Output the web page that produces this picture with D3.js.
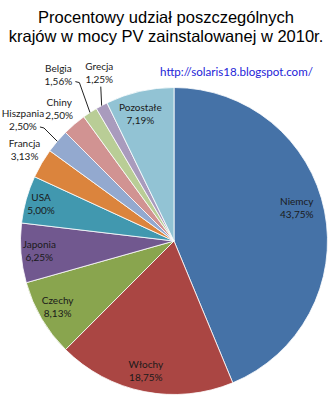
<!DOCTYPE html>
<html>
<head>
<meta charset="utf-8">
<script src="https://cdn.jsdelivr.net/npm/d3@7"></script>
<style>
  html, body { margin: 0; padding: 0; background: #fff; }
  svg { display: block; }
</style>
</head>
<body>
<svg id="chart" width="331" height="400"></svg>
<script>
// Share of installed PV capacity by country in 2010 (percent)
const countries = ["Niemcy", "Włochy", "Czechy", "Japonia", "USA", "Francja",
                   "Hiszpania", "Chiny", "Belgia", "Grecja", "Pozostałe"];
const shares = [43.75, 18.75, 8.13, 6.25, 5.00, 3.13, 2.50, 2.50, 1.56, 1.25, 7.19];
const colors = ["#4572A7", "#AA4643", "#89A54E", "#71588F", "#4198AF", "#DB843D",
                "#93A9CF", "#D19392", "#B9CD96", "#A99BBD", "#92C3D4"];
const titleLines = ["Procentowy udział poszczególnych", "krajów w mocy PV zainstalowanej w 2010r."];
const sourceUrl = "http://solaris18.blogspot.com/";

// Label placement: radius as a fraction of the pie radius, small angle nudge (deg),
// and whether a leader line joins the label to the slice edge.
const labelRadius = [0.83, 0.866, 0.87, 0.88, 0.90, 1.14, 1.261, 1.14, 1.32, 1.20, 0.86];
const labelNudge  = [-4.2, 1.0, 1.0, 0.5, 0, 1.0, -1.8, -0.5, -1.6, 4.2, -1.8];
const hasLeader   = [false, false, false, false, false, false, true, false, true, true, false];

const fmt = v => d3.format(".2f")(v).replace(".", ",") + "%";

const svg = d3.select("#chart");
const cx = 174, cy = 241, R = 153.5;

// Title
svg.append("g").selectAll("text").data(titleLines).join("text")
  .attr("x", 166).attr("y", (d, i) => 23 + i * 19)
  .attr("text-anchor", "middle")
  .attr("font-family", "Liberation Sans, Arial, sans-serif")
  .attr("font-size", 16.5)
  .attr("fill", "#000")
  .text(d => d);

// Source link
svg.append("text")
  .attr("x", 236.5).attr("y", 76)
  .attr("text-anchor", "middle")
  .attr("font-family", "Lato, sans-serif")
  .attr("font-size", 11.6)
  .attr("fill", "#2424d8")
  .text(sourceUrl);

const data = countries.map((c, i) => ({ name: c, value: shares[i], color: colors[i], i }));

const pie = d3.pie().value(d => d.value).sort(null);
const arcs = pie(data);
const arc = d3.arc().innerRadius(0).outerRadius(R);

const g = svg.append("g").attr("transform", `translate(${cx},${cy})`);

g.selectAll("path").data(arcs).join("path")
  .attr("d", arc)
  .attr("fill", d => d.data.color)
  .attr("stroke", "#fff")
  .attr("stroke-width", 0.8);

const polar = (angle, r) => [r * Math.sin(angle), -r * Math.cos(angle)];

// Leader lines for the small outside labels
arcs.forEach(d => {
  const i = d.data.i;
  if (!hasLeader[i]) return;
  const mid = (d.startAngle + d.endAngle) / 2;
  const edge = polar(mid, R);
  const la = mid + labelNudge[i] * Math.PI / 180;
  const lp = polar(la, R * labelRadius[i]);
  let pts;
  if (d.data.name === "Grecja") {
    pts = [[lp[0] + 1.5, lp[1] + 14], edge];
  } else {
    const sx = lp[0] + 17, sy = lp[1] + 7;
    pts = [[sx, sy], [sx + 4, sy + 1], edge];
  }
  g.append("path")
    .attr("d", d3.line()(pts))
    .attr("fill", "none")
    .attr("stroke", "#222")
    .attr("stroke-width", 1);
});

// Category + value labels
const labels = g.selectAll("g.lbl").data(arcs).join("g").attr("class", "lbl")
  .attr("transform", d => {
    const i = d.data.i;
    const mid = (d.startAngle + d.endAngle) / 2 + labelNudge[i] * Math.PI / 180;
    const p = polar(mid, R * labelRadius[i]);
    return `translate(${p[0]},${p[1]})`;
  });

labels.append("text")
  .attr("text-anchor", "middle")
  .attr("y", -2.5)
  .attr("font-family", "Lato, sans-serif")
  .attr("font-size", 10)
  .attr("fill", "#1a1a1a")
  .text(d => d.data.name);

labels.append("text")
  .attr("text-anchor", "middle")
  .attr("y", 10.5)
  .attr("font-family", "Lato, sans-serif")
  .attr("font-size", 10)
  .attr("fill", "#1a1a1a")
  .text(d => fmt(d.data.value));
</script>
</body>
</html>
